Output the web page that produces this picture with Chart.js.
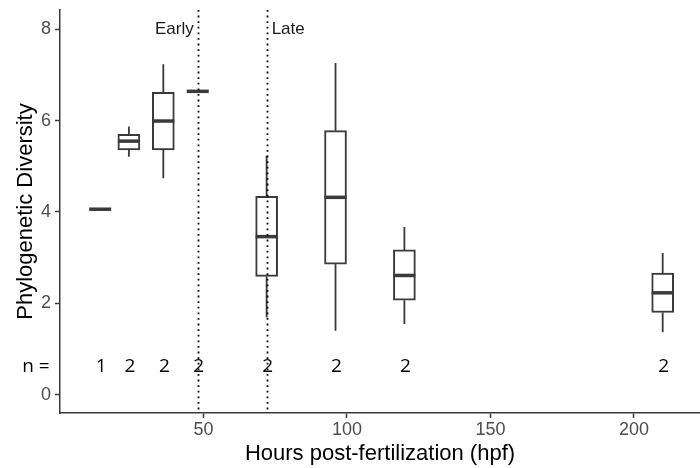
<!DOCTYPE html>
<html>
<head>
<meta charset="utf-8">
<script src="https://cdn.jsdelivr.net/npm/chart.js@4.4.1/dist/chart.umd.min.js"></script>
<style>
  body { margin: 0; background: #fff; }
</style>
</head>
<body>
<canvas id="chart" width="700" height="468"></canvas>
<script>
// hours post-fertilization for each group
const hours = [14, 24, 36, 48, 72, 96, 120, 210];
// box summaries
const lowWhisker = [4.06, 5.21, 4.74, 6.64, 1.69, 1.40, 1.55, 1.37];
const q1 = [4.06, 5.36, 5.36, 6.64, 2.59, 2.86, 2.07, 1.80];
const medians = [4.06, 5.55, 5.99, 6.64, 3.46, 4.32, 2.61, 2.23];
const q3 = [4.06, 5.70, 6.62, 6.64, 4.34, 5.78, 3.17, 2.66];
const highWhisker = [4.06, 5.87, 7.23, 6.64, 5.23, 7.26, 3.67, 3.10];
const counts = [1, 2, 2, 2, 2, 2, 2, 2];

// stage boundaries
const stageLines = [48, 72];
const stageNames = ["Early", "Late"];

const xTicks = [50, 100, 150, 200];
const yTicks = [0, 2, 4, 6, 8];
const countLevel = 0.61;

const ink = "#3a3a3a";

// whiskers, medians, stage lines and n labels
const boxExtras = {
  id: "boxExtras",
  afterDatasetsDraw(chart) {
    const c = chart.ctx;
    const x = chart.scales.x;
    const y = chart.scales.y;
    const area = chart.chartArea;
    c.save();
    c.strokeStyle = ink;
    c.lineWidth = 1.8;
    hours.forEach((h, i) => {
      const px = x.getPixelForValue(h);
      c.beginPath();
      c.moveTo(px, y.getPixelForValue(q3[i]));
      c.lineTo(px, y.getPixelForValue(highWhisker[i]));
      c.moveTo(px, y.getPixelForValue(q1[i]));
      c.lineTo(px, y.getPixelForValue(lowWhisker[i]));
      c.stroke();
    });
    c.lineWidth = 3.5;
    hours.forEach((h, i) => {
      const px = x.getPixelForValue(h);
      const py = y.getPixelForValue(medians[i]);
      c.beginPath();
      c.moveTo(px - 11, py);
      c.lineTo(px + 11, py);
      c.stroke();
    });

    // dotted stage lines
    c.strokeStyle = "#000";
    c.lineWidth = 1.8;
    c.setLineDash([1.8, 3.8]);
    stageLines.forEach(v => {
      const px = Math.round(x.getPixelForValue(v)) + 0.5;
      c.beginPath();
      c.moveTo(px, area.top);
      c.lineTo(px, area.bottom);
      c.stroke();
    });
    c.setLineDash([]);

    c.fillStyle = "#1a1a1a";
    c.font = "17px 'Liberation Sans', Arial, sans-serif";
    c.textBaseline = "middle";
    c.textAlign = "right";
    c.fillText(stageNames[0], x.getPixelForValue(stageLines[0]) - 4, y.getPixelForValue(8));
    c.textAlign = "left";
    c.fillText(stageNames[1], x.getPixelForValue(stageLines[1]) + 5, y.getPixelForValue(8));

    // sample sizes
    c.fillStyle = "#000";
    c.font = "19px 'Open Sans', 'Noto Sans', sans-serif";
    c.textAlign = "center";
    const ny = y.getPixelForValue(countLevel);
    hours.forEach((h, i) => {
      c.fillText(String(counts[i]), x.getPixelForValue(h) + 1, ny);
    });
    c.fillText("n =", 36, ny);
    c.restore();
  }
};

new Chart(document.getElementById("chart").getContext("2d"), {
  type: "bar",
  data: {
    datasets: [{
      data: hours.map((h, i) => ({ x: h, y: [q1[i], q3[i]] })),
      backgroundColor: "#ffffff",
      borderColor: ink,
      borderWidth: 2,
      borderSkipped: false,
      barThickness: 22,
      grouped: false
    }]
  },
  options: {
    responsive: false,
    animation: false,
    devicePixelRatio: 1,
    layout: { padding: { top: 10, right: 0, left: 0, bottom: 0 } },
    plugins: { legend: { display: false }, tooltip: { enabled: false } },
    scales: {
      x: {
        type: "linear",
        offset: false,
        min: 0,
        max: 223,
        afterBuildTicks: s => { s.ticks = xTicks.map(v => ({ value: v })); },
        afterFit: s => { s.height = 55; s.paddingLeft = 0; s.paddingRight = 0; },
        grid: { offset: false, drawOnChartArea: false, tickLength: 5, color: ink, tickWidth: 1.5 },
        border: { display: true, color: ink, width: 1.5 },
        ticks: { color: "#4d4d4d", font: { family: "'Liberation Sans', Arial", size: 18 }, padding: 1, maxRotation: 0 },
        title: { display: true, text: "Hours post-fertilization (hpf)", color: "#000", font: { family: "'Liberation Sans', Arial", size: 22 }, padding: { top: 0, bottom: 1 } }
      },
      y: {
        min: -0.4,
        max: 8.42,
        afterBuildTicks: s => { s.ticks = yTicks.map(v => ({ value: v })); },
        afterFit: s => { s.width = 60; s.paddingTop = 0; s.paddingBottom = 0; },
        grid: { drawOnChartArea: false, tickLength: 5, color: ink, tickWidth: 1.5 },
        border: { display: true, color: ink, width: 1.5 },
        ticks: { color: "#4d4d4d", font: { family: "'Liberation Sans', Arial", size: 18 }, padding: 4 },
        title: { display: true, text: "Phylogenetic Diversity", color: "#000", font: { family: "'Liberation Sans', Arial", size: 22 }, padding: { top: 13, bottom: 0 } }
      }
    }
  },
  plugins: [boxExtras]
});
</script>
</body>
</html>
